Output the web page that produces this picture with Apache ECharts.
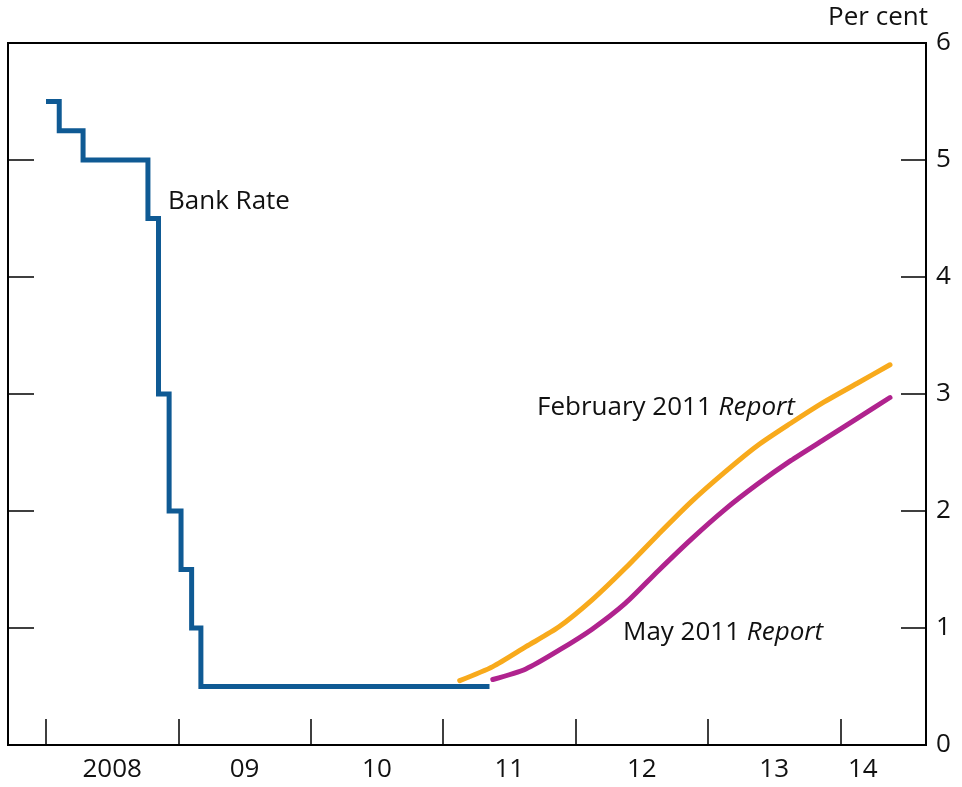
<!DOCTYPE html>
<html>
<head>
<meta charset="utf-8">
<script src="https://cdn.jsdelivr.net/npm/echarts@6/dist/echarts.min.js"></script>
<style>
html,body{margin:0;padding:0;background:#fff;}
#chart{width:962px;height:787px;}
</style>
</head>
<body>
<div id="chart"></div>
<script>
// ---- Data (decimal years) ----
var bankDates  = [2008.00, 2008.10, 2008.28, 2008.77, 2008.85, 2008.93, 2009.02, 2009.10, 2009.17, 2011.35];
var bankValues = [5.5, 5.25, 5.0, 4.5, 3.0, 2.0, 1.5, 1.0, 0.5, 0.5];

var febDates  = [2011.125, 2011.375, 2011.625, 2011.875, 2012.125, 2012.375, 2012.625, 2012.875, 2013.125, 2013.375, 2013.625, 2013.875, 2014.125, 2014.375];
var febValues = [0.55, 0.67, 0.84, 1.01, 1.24, 1.51, 1.80, 2.08, 2.33, 2.56, 2.75, 2.93, 3.09, 3.25];

var mayDates  = [2011.375, 2011.625, 2011.875, 2012.125, 2012.375, 2012.625, 2012.875, 2013.125, 2013.375, 2013.625, 2013.875, 2014.125, 2014.375];
var mayValues = [0.56, 0.65, 0.81, 0.99, 1.21, 1.49, 1.76, 2.01, 2.23, 2.43, 2.61, 2.79, 2.97];

var tickYears   = [2008, 2009, 2010, 2011, 2012, 2013, 2014];
var tickLabels  = ['2008', '09', '10', '11', '12', '13', '14'];
var labelAt     = [2008.5, 2009.5, 2010.5, 2011.5, 2012.5, 2013.5, 2014.17];

function pairs(xs, ys) { return xs.map(function (x, i) { return [x, ys[i]]; }); }

var FONT = '"Open Sans", "Noto Sans", sans-serif';
var FS = 26;
var chart = echarts.init(document.getElementById('chart'), null, {renderer: 'canvas'});

var richLabel = {
  a: {fontFamily: FONT, fontSize: FS, fill: '#111', color: '#111'},
  b: {fontFamily: FONT, fontSize: FS, fontStyle: 'italic', fill: '#111', color: '#111'}
};

var option = {
  backgroundColor: '#ffffff',
  animation: false,
  grid: {left: 8, right: 36, top: 43, bottom: 42, show: true, borderColor: '#000', borderWidth: 2, backgroundColor: 'transparent'},
  xAxis: {
    type: 'value', min: 2007.713, max: 2014.647,
    axisLine: {show: true, lineStyle: {color: '#000', width: 2}},
    axisTick: {show: true, inside: true, length: 26, customValues: tickYears, lineStyle: {color: '#000', width: 1.5}},
    axisLabel: {
      show: true, customValues: labelAt, margin: 12, color: '#111', fontFamily: FONT, fontSize: FS,
      formatter: function (v) {
        for (var i = 0; i < labelAt.length; i++) { if (Math.abs(labelAt[i] - v) < 1e-6) return tickLabels[i]; }
        return '';
      }
    },
    splitLine: {show: false}
  },
  yAxis: [
    {
      type: 'value', position: 'right', min: 0, max: 6, interval: 1,
      name: 'Per cent', nameLocation: 'end', nameGap: 12,
      nameTextStyle: {color: '#111', fontFamily: FONT, fontSize: FS, align: 'right', verticalAlign: 'bottom', padding: [0, -2, 0, 0]},
      axisLine: {show: true, lineStyle: {color: '#000', width: 2}},
      axisTick: {show: true, inside: true, length: 25, lineStyle: {color: '#000', width: 1.5}},
      axisLabel: {show: true, margin: 10, color: '#111', fontFamily: FONT, fontSize: FS},
      splitLine: {show: false}
    },
    {
      type: 'value', position: 'left', min: 0, max: 6, interval: 1,
      axisLine: {show: true, lineStyle: {color: '#000', width: 2}},
      axisTick: {show: true, inside: true, length: 26, lineStyle: {color: '#000', width: 1.5}},
      axisLabel: {show: false},
      splitLine: {show: false}
    }
  ],
  series: [
    {
      name: 'Bank Rate', type: 'line', step: 'end', yAxisIndex: 0,
      data: pairs(bankDates, bankValues), showSymbol: false, symbol: 'none',
      lineStyle: {color: '#0f5a94', width: 5, join: 'miter', cap: 'butt'}, z: 3
    },
    {
      name: 'February 2011 Report', type: 'line', yAxisIndex: 0, smooth: 0.25,
      data: pairs(febDates, febValues), showSymbol: false, symbol: 'none',
      lineStyle: {color: '#f8aa1c', width: 5, cap: 'round'}, z: 2
    },
    {
      name: 'May 2011 Report', type: 'line', yAxisIndex: 0, smooth: 0.25,
      data: pairs(mayDates, mayValues), showSymbol: false, symbol: 'none',
      lineStyle: {color: '#b0238e', width: 5, cap: 'round'}, z: 2
    }
  ],
  graphic: [
    {type: 'text', left: 168, top: 189, style: {text: 'Bank Rate', font: FS + 'px ' + FONT, fill: '#111'}},
    {type: 'text', left: 537, top: 395, style: {text: '{a|February 2011 }{b|Report}', rich: richLabel}},
    {type: 'text', left: 623, top: 620, style: {text: '{a|May 2011 }{b|Report}', rich: richLabel}}
  ]
};
chart.setOption(option);
</script>
</body>
</html>
